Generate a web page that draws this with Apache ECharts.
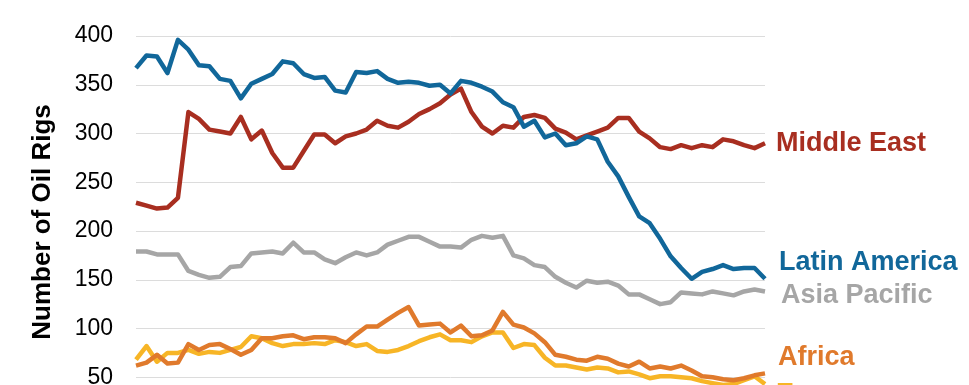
<!DOCTYPE html>
<html><head><meta charset="utf-8">
<script src="https://cdn.jsdelivr.net/npm/echarts@6/dist/echarts.min.js"></script>
<style>html,body{margin:0;padding:0;background:#fff}#c{width:969px;height:385px}</style>
</head><body><div id="c"></div>
<script>
const months = [
 'Jan-11','Feb-11','Mar-11','Apr-11','May-11','Jun-11','Jul-11','Aug-11','Sep-11','Oct-11','Nov-11','Dec-11',
 'Jan-12','Feb-12','Mar-12','Apr-12','May-12','Jun-12','Jul-12','Aug-12','Sep-12','Oct-12','Nov-12','Dec-12',
 'Jan-13','Feb-13','Mar-13','Apr-13','May-13','Jun-13','Jul-13','Aug-13','Sep-13','Oct-13','Nov-13','Dec-13',
 'Jan-14','Feb-14','Mar-14','Apr-14','May-14','Jun-14','Jul-14','Aug-14','Sep-14','Oct-14','Nov-14','Dec-14',
 'Jan-15','Feb-15','Mar-15','Apr-15','May-15','Jun-15','Jul-15','Aug-15','Sep-15','Oct-15','Nov-15','Dec-15',
 'Jan-16'
];
const yTicks = [0, 50, 100, 150, 200, 250, 300, 350, 400];

const latinAmerica = [367,380,379,362,396,386,370,369,356,354,336,351,356,361,374,372,361,357,358,344,342,
 363,362,364,356,352,353,352,349,350,341,354,352,348,343,332,327,307,313,296,300,
 288,290,297,294,271,256,235,215,208,192,174,162,151,158,161,165,161,162,162,151];
const middleEast = [229,226,223,224,234,322,315,304,302,300,317,294,303,280,265,265,282,299,299,290,297,
 300,304,313,308,306,312,320,325,331,340,346,322,307,300,308,306,317,319,316,
 305,301,294,298,302,306,316,316,302,295,286,284,288,285,288,286,294,292,288,285,290];
const asiaPacific = [179,179,176,176,176,159,155,152,153,163,164,177,178,179,177,188,178,178,171,167,173,
 178,175,178,186,190,194,194,189,184,184,183,191,195,193,195,175,172,165,163,153,
 147,142,149,147,148,144,135,135,130,125,127,137,136,135,138,136,134,138,140,138];
const africa = [62,65,73,64,65,84,78,83,84,79,73,78,90,90,92,93,89,91,91,90,85,
 94,102,102,109,116,122,103,104,105,96,103,92,93,98,117,104,101,95,86,73,
 71,68,67,71,69,64,61,66,59,61,59,62,57,51,50,48,47,49,52,54];
const europe = [68,82,66,75,75,78,74,76,75,78,81,92,90,85,82,84,84,85,84,88,86,
 82,84,77,76,78,82,87,91,94,88,88,86,92,96,96,80,84,83,70,62,
 62,60,58,60,59,55,56,53,49,51,51,50,49,46,44,42,43,47,51,43];

const FONT = "'Liberation Sans', Arial, sans-serif";
function mk(name, data, color, off) {
  return {
    name: name, type: 'line', data: data, symbol: 'none', smooth: false,
    lineStyle: { color: color, width: 4.5, join: 'round' },
    itemStyle: { color: color },
    emphasis: { disabled: true },
    endLabel: {
      show: true, formatter: '{a}', color: color, fontSize: 27, fontWeight: 'bold',
      fontFamily: FONT, distance: 11, offset: off
    }
  };
}

const chart = echarts.init(document.getElementById('c'));
chart.setOption({
  animation: false,
  grid: { left: 136, top: 36, width: 629, height: 390, outerBoundsMode: 'none', containLabel: false },
  xAxis: {
    type: 'category', data: months, boundaryGap: false,
    axisLine: { show: false }, axisTick: { show: false }, axisLabel: { show: false }
  },
  yAxis: {
    type: 'value', min: yTicks[0], max: yTicks[yTicks.length - 1], interval: 50,
    name: 'Number of Oil Rigs', nameLocation: 'middle', nameRotate: 90, nameGap: 80,
    nameTextStyle: { fontSize: 26, fontWeight: 'bold', color: '#000', fontFamily: FONT, padding: [0, 0, 0, 18] },
    axisLine: { show: false }, axisTick: { show: false },
    axisLabel: { fontSize: 23, color: '#000', fontFamily: FONT, margin: 23 },
    splitLine: { lineStyle: { color: '#dcdcdc', width: 1 } }
  },
  series: [
    mk('Europe', europe, '#F7B526', [0, 10]),
    mk('Africa', africa, '#E07A2C', [2, -16]),
    mk('Asia Pacific', asiaPacific, '#A6A6A6', [5, 4]),
    mk('Middle East', middleEast, '#A82E20', [0, 0]),
    mk('Latin America', latinAmerica, '#11679A', [3, -16])
  ]
});
</script>
</body></html>
